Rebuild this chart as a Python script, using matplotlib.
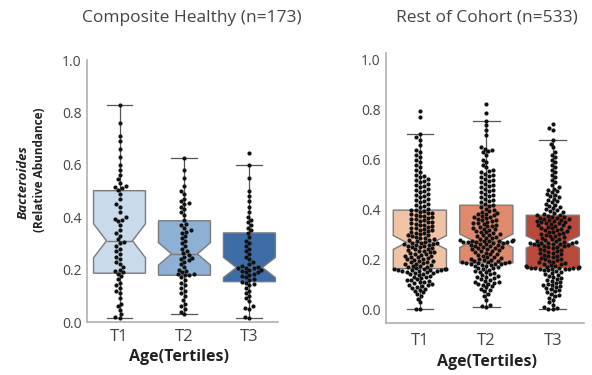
import matplotlib
matplotlib.use("Agg")
import matplotlib.pyplot as plt
import numpy as np
import pandas as pd
import seaborn as sns

# ---- data: Bacteroides relative abundance by age tertile ----
tertiles = ["T1", "T2", "T3"]

healthy_t1 = [0.015, 0.02, 0.03, 0.045, 0.06, 0.07, 0.09, 0.11, 0.12, 0.13, 0.14, 0.15,
              0.165, 0.175, 0.185, 0.19, 0.195, 0.20, 0.21, 0.22, 0.23, 0.24, 0.25, 0.26,
              0.27, 0.28, 0.29, 0.30, 0.305, 0.315, 0.33, 0.34, 0.35, 0.37, 0.385, 0.39,
              0.395, 0.40, 0.42, 0.44, 0.45, 0.47, 0.49, 0.505, 0.51, 0.515, 0.52, 0.53,
              0.545, 0.56, 0.58, 0.60, 0.63, 0.66, 0.69, 0.71, 0.76, 0.83]
healthy_t2 = [0.029, 0.04, 0.05, 0.06, 0.07, 0.085, 0.10, 0.11, 0.12, 0.13, 0.14, 0.15,
              0.16, 0.17, 0.178, 0.18, 0.182, 0.185, 0.19, 0.195, 0.20, 0.21, 0.22, 0.23,
              0.235, 0.24, 0.245, 0.25, 0.255, 0.265, 0.27, 0.28, 0.29, 0.30, 0.31, 0.32,
              0.33, 0.34, 0.345, 0.35, 0.36, 0.37, 0.375, 0.39, 0.41, 0.42, 0.43, 0.44,
              0.45, 0.455, 0.46, 0.47, 0.49, 0.50, 0.52, 0.55, 0.58, 0.627]
healthy_t3 = [0.016, 0.02, 0.05, 0.055, 0.06, 0.08, 0.09, 0.10, 0.11, 0.12, 0.13, 0.14,
              0.145, 0.15, 0.154, 0.16, 0.165, 0.17, 0.175, 0.18, 0.185, 0.19, 0.19, 0.195,
              0.20, 0.20, 0.205, 0.205, 0.208, 0.21, 0.215, 0.22, 0.23, 0.24, 0.25, 0.26,
              0.27, 0.28, 0.29, 0.30, 0.31, 0.325, 0.34, 0.35, 0.36, 0.37, 0.38, 0.39,
              0.40, 0.42, 0.44, 0.46, 0.48, 0.50, 0.55, 0.60, 0.644]

rest_t1 = [0.003, 0.004, 0.03, 0.045, 0.055, 0.062, 0.07, 0.075, 0.08, 0.085, 0.088, 0.092,
           0.095, 0.098, 0.10, 0.103, 0.106, 0.11, 0.112, 0.115, 0.118, 0.12, 0.123, 0.126,
           0.13, 0.133, 0.136, 0.139, 0.142, 0.145, 0.147, 0.149, 0.151, 0.153, 0.155, 0.156,
           0.157, 0.158, 0.159, 0.16, 0.161, 0.162, 0.163, 0.164, 0.165,
           0.167, 0.17, 0.172, 0.175, 0.177, 0.18, 0.182, 0.185, 0.187, 0.19, 0.192, 0.195,
           0.197, 0.20, 0.202, 0.205, 0.207, 0.21, 0.212, 0.215, 0.217, 0.22, 0.222, 0.225,
           0.227, 0.23, 0.232, 0.235, 0.237, 0.24, 0.242, 0.245, 0.247, 0.25, 0.252, 0.255,
           0.257, 0.259, 0.261, 0.263, 0.265, 0.266, 0.267, 0.268,
           0.272, 0.275, 0.278, 0.28, 0.283, 0.286, 0.289, 0.292, 0.295, 0.298, 0.30, 0.303,
           0.306, 0.309, 0.312, 0.315, 0.318, 0.32, 0.323, 0.326, 0.329, 0.332, 0.335, 0.338,
           0.341, 0.344, 0.347, 0.35, 0.353, 0.356, 0.359, 0.362, 0.365, 0.368, 0.371, 0.374,
           0.377, 0.38, 0.383, 0.386, 0.389, 0.392, 0.395, 0.398,
           0.40, 0.405, 0.41, 0.415, 0.42, 0.425, 0.43, 0.435, 0.44, 0.445, 0.45, 0.455,
           0.46, 0.465, 0.47, 0.475, 0.48, 0.485, 0.49, 0.495, 0.50, 0.505, 0.51, 0.515,
           0.52, 0.525, 0.53, 0.535, 0.54, 0.55, 0.56, 0.57, 0.58, 0.59, 0.60, 0.61,
           0.62, 0.63, 0.64, 0.66, 0.68, 0.69, 0.703, 0.77, 0.796]
rest_t2 = [0.013, 0.015, 0.018, 0.04, 0.055, 0.065, 0.075, 0.08, 0.085, 0.09, 0.095, 0.10,
           0.102, 0.105, 0.108, 0.11, 0.113, 0.116, 0.12, 0.123, 0.126, 0.13, 0.133, 0.136,
           0.14, 0.143, 0.146, 0.15, 0.153, 0.156, 0.16, 0.163, 0.166, 0.169, 0.172, 0.175,
           0.177, 0.179, 0.181, 0.183, 0.184, 0.185, 0.186, 0.187, 0.188,
           0.19, 0.191, 0.192, 0.194, 0.196, 0.198, 0.20, 0.202, 0.204, 0.207, 0.21, 0.213,
           0.216, 0.219, 0.222, 0.225, 0.228, 0.231, 0.234, 0.237, 0.24, 0.242, 0.244, 0.246,
           0.248, 0.25, 0.252, 0.254, 0.256, 0.258, 0.26, 0.262, 0.264, 0.266, 0.268, 0.27,
           0.271, 0.272, 0.273, 0.274, 0.275, 0.275, 0.276, 0.276,
           0.278, 0.28, 0.283, 0.286, 0.289, 0.292, 0.295, 0.298, 0.301, 0.304, 0.307, 0.31,
           0.313, 0.316, 0.319, 0.322, 0.325, 0.328, 0.331, 0.334, 0.337, 0.34, 0.343, 0.346,
           0.349, 0.352, 0.355, 0.358, 0.361, 0.364, 0.367, 0.37, 0.373, 0.376, 0.379, 0.382,
           0.385, 0.389, 0.393, 0.397, 0.401, 0.405, 0.41, 0.416,
           0.42, 0.425, 0.43, 0.435, 0.44, 0.445, 0.45, 0.455, 0.46, 0.465, 0.47, 0.475,
           0.48, 0.485, 0.49, 0.495, 0.50, 0.505, 0.51, 0.515, 0.52, 0.525, 0.53, 0.535,
           0.54, 0.545, 0.55, 0.555, 0.56, 0.57, 0.58, 0.59, 0.60, 0.62, 0.63, 0.635,
           0.64, 0.645, 0.65, 0.70, 0.72, 0.74, 0.757, 0.787, 0.824]
rest_t3 = [0.003, 0.005, 0.008, 0.012, 0.02, 0.03, 0.04, 0.048, 0.055, 0.06, 0.065, 0.07,
           0.074, 0.078, 0.082, 0.086, 0.09, 0.094, 0.098, 0.10, 0.104, 0.108, 0.112, 0.116,
           0.12, 0.124, 0.128, 0.132, 0.136, 0.14, 0.144, 0.148, 0.152, 0.155, 0.158, 0.16,
           0.162, 0.163, 0.164, 0.165, 0.166, 0.167, 0.168, 0.168, 0.169,
           0.17, 0.171, 0.173, 0.175, 0.177, 0.18, 0.182, 0.185, 0.188, 0.19, 0.193, 0.196,
           0.199, 0.202, 0.205, 0.208, 0.211, 0.214, 0.217, 0.22, 0.223, 0.226, 0.229, 0.232,
           0.235, 0.238, 0.241, 0.244, 0.247, 0.25, 0.252, 0.254, 0.256, 0.258, 0.26, 0.262,
           0.264, 0.265, 0.266, 0.267, 0.268, 0.269, 0.27, 0.272,
           0.274, 0.276, 0.279, 0.282, 0.285, 0.288, 0.291, 0.294, 0.297, 0.30, 0.302, 0.305,
           0.308, 0.31, 0.313, 0.316, 0.318, 0.32, 0.323, 0.326, 0.328, 0.33, 0.333, 0.336,
           0.338, 0.34, 0.343, 0.346, 0.348, 0.35, 0.352, 0.354, 0.356, 0.358, 0.36, 0.362,
           0.364, 0.366, 0.368, 0.37, 0.372, 0.375, 0.378, 0.379,
           0.382, 0.386, 0.39, 0.394, 0.398, 0.402, 0.406, 0.41, 0.415, 0.42, 0.425, 0.43,
           0.435, 0.44, 0.445, 0.45, 0.455, 0.46, 0.465, 0.47, 0.475, 0.48, 0.485, 0.49,
           0.50, 0.51, 0.52, 0.53, 0.54, 0.55, 0.56, 0.57, 0.58, 0.59, 0.60, 0.61,
           0.62, 0.63, 0.65, 0.665, 0.68, 0.72, 0.727, 0.744]

healthy_colors = ["#c9daeb", "#8db0d4", "#3e6ca6"]
rest_colors = ["#f0c2a6", "#df8a6c", "#b9493a"]

panels = [
    {"title": "Composite Healthy (n=173)", "groups": [healthy_t1, healthy_t2, healthy_t3],
     "colors": healthy_colors, "rect": [0.147, 0.1413, 0.3226, 0.6987],
     "ylim": (0.0, 1.0), "xlim": (-0.5, 2.44),
     "title_xy": (0.324, 0.952), "xlabel_xy": (0.302, 0.048), "xtick_pad": 5},
    {"title": "Rest of Cohort (n=533)", "groups": [rest_t1, rest_t2, rest_t3],
     "colors": rest_colors, "rect": [0.652, 0.1387, 0.3345, 0.7200],
     "ylim": (-0.052, 1.028), "xlim": (-0.51, 2.47),
     "title_xy": (0.823, 0.952), "xlabel_xy": (0.823, 0.035), "xtick_pad": 7},
]

plt.rcParams["font.family"] = ["Open Sans", "DejaVu Sans"]
fig = plt.figure(figsize=(5.92, 3.75), dpi=100)

spine_c = "#b0b0b0"
edge_c = "#7a7a7a"
whisk_c = "#555555"
text_c = "#444444"
label_c = "#222222"

for p in panels:
    ax = fig.add_axes(p["rect"])
    bp = ax.boxplot(p["groups"], positions=[0, 1, 2], widths=0.8, notch=True,
                    patch_artist=True, showfliers=False,
                    boxprops=dict(edgecolor=edge_c, linewidth=1.0),
                    medianprops=dict(color=edge_c, linewidth=1.0),
                    whiskerprops=dict(color=whisk_c, linewidth=0.9),
                    capprops=dict(color=whisk_c, linewidth=0.9), zorder=1)
    for patch, c in zip(bp["boxes"], p["colors"]):
        patch.set_facecolor(c)

    df = pd.DataFrame({
        "tertile": np.concatenate([[t] * len(g) for t, g in zip(tertiles, p["groups"])]),
        "value": np.concatenate(p["groups"]),
    })
    sns.swarmplot(data=df, x="tertile", y="value", order=tertiles, ax=ax,
                  color="#111111", size=3.0, linewidth=0, zorder=3, warn_thresh=1.0)

    ax.set_xlim(*p["xlim"])
    ax.set_ylim(*p["ylim"])
    ax.set_yticks([0.0, 0.2, 0.4, 0.6, 0.8, 1.0])
    ax.set_yticklabels(["0.0", "0.2", "0.4", "0.6", "0.8", "1.0"])
    ax.set_xticks([0, 1, 2])
    ax.set_xticklabels(tertiles)
    ax.tick_params(length=0, colors=text_c, labelsize=10, pad=4)
    ax.tick_params(axis="x", labelsize=12, pad=p["xtick_pad"])
    for s in ("top", "right"):
        ax.spines[s].set_visible(False)
    for s in ("left", "bottom"):
        ax.spines[s].set_color(spine_c)
        ax.spines[s].set_linewidth(1.2)
    ax.set_xlabel("")
    ax.set_ylabel("")

    fig.text(*p["title_xy"], p["title"], ha="center", va="center",
             fontsize=12.5, color=text_c)
    fig.text(*p["xlabel_xy"], "Age(Tertiles)", ha="center", va="center",
             fontsize=11.5, fontweight="bold", color=label_c)

# two-line y axis label
fig.text(0.039, 0.515, "Bacteroides", rotation=90, ha="center", va="center",
         fontsize=9.5, fontweight="bold", fontstyle="italic", color=label_c)
fig.text(0.067, 0.547, "(Relative Abundance)", rotation=90, ha="center", va="center",
         fontsize=8.5, fontweight="bold", color=label_c)

fig.savefig("out.png", dpi=100)
